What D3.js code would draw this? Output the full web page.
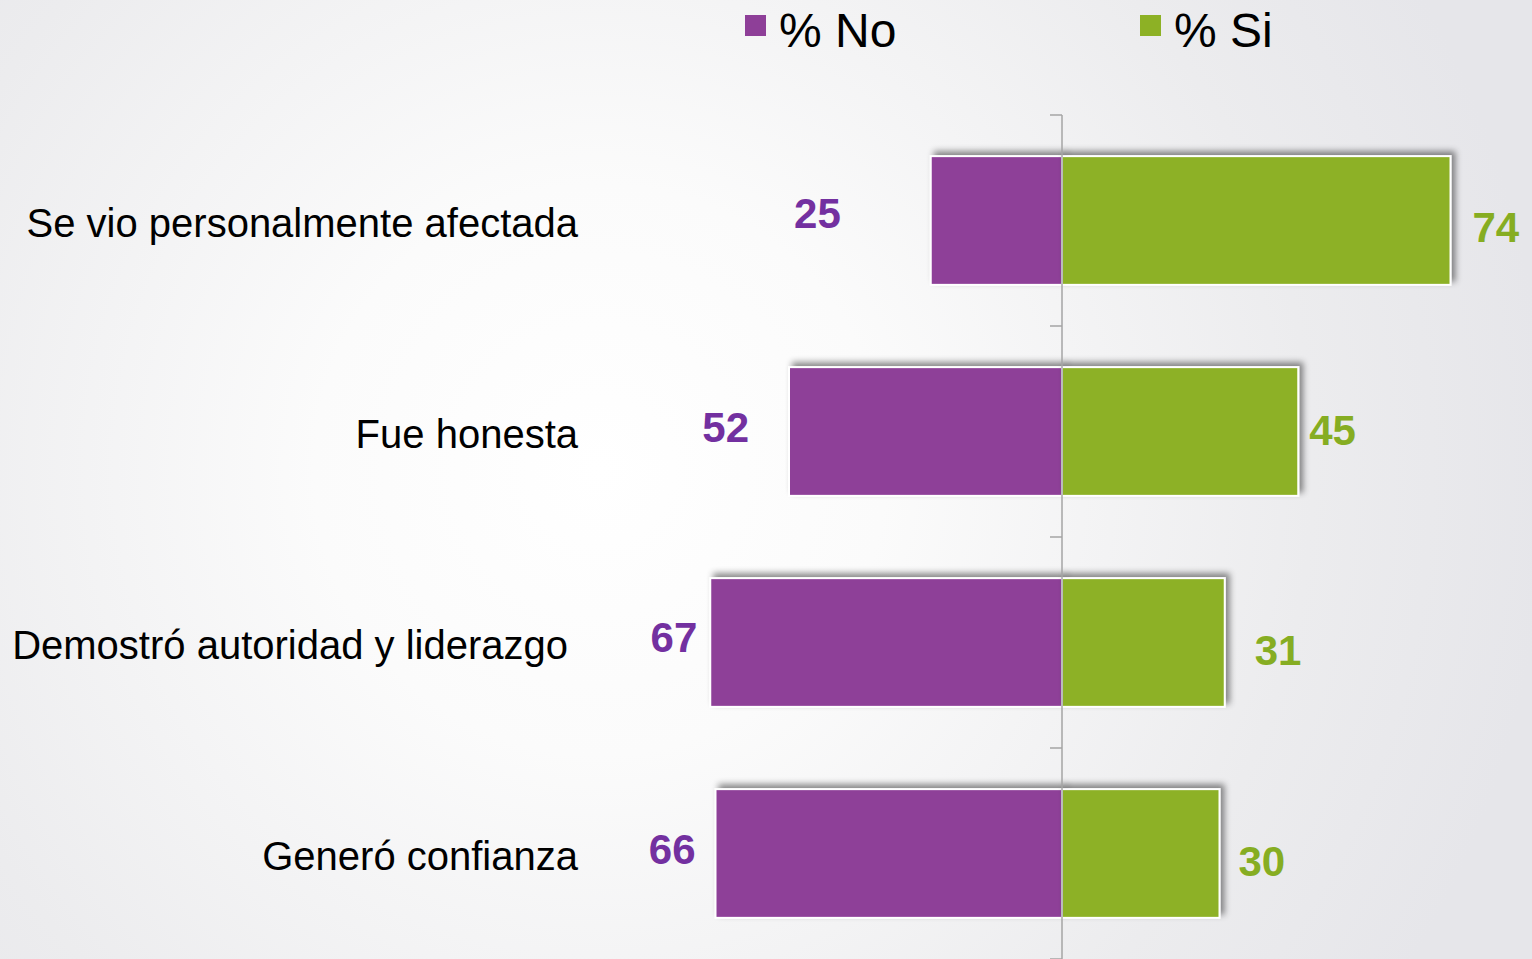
<!DOCTYPE html>
<html>
<head>
<meta charset="utf-8">
<script src="https://cdn.jsdelivr.net/npm/d3@7"></script>
<style>
  html, body { margin: 0; padding: 0; overflow: hidden; }
  svg { display: block; font-family: "Liberation Sans", Arial, sans-serif; }
</style>
</head>
<body>
<script>
const categories = [
  'Se vio personalmente afectada',
  'Fue honesta',
  'Demostró autoridad y liderazgo',
  'Generó confianza',
];
const noValues = [25, 52, 67, 66];
const siValues = [74, 45, 31, 30];
const seriesNames = ['% No', '% Si'];

const width = 1532;
const height = 959;
const center = 1062;
const pxPerUnit = 5.25;

const purple = '#8e3f98';
const green = '#8db125';
const purpleText = '#7330a0';
const greenText = '#86ad22';

// small hand nudges for the value labels, as in the original slide
const noNudge = [[-90, -7], [-40, -4], [-13, -5], [-20, -4]];
const siNudge = [[22, 7], [11, -1], [30, 8], [19, 8]];

const svg = d3.select('body')
  .append('svg')
  .attr('width', width)
  .attr('height', height);

const defs = svg.append('defs');

const bg = defs.append('radialGradient')
  .attr('id', 'bg')
  .attr('gradientUnits', 'userSpaceOnUse')
  .attr('cx', 600).attr('cy', 470).attr('r', 950);
bg.append('stop').attr('offset', '0').attr('stop-color', '#ffffff');
bg.append('stop').attr('offset', '0.3').attr('stop-color', '#fbfbfb');
bg.append('stop').attr('offset', '0.75').attr('stop-color', '#ececee');
bg.append('stop').attr('offset', '1').attr('stop-color', '#e6e6ea');

const shadow = defs.append('filter')
  .attr('id', 'shadow')
  .attr('x', '-10%').attr('y', '-20%')
  .attr('width', '120%').attr('height', '140%');
shadow.append('feDropShadow')
  .attr('dx', 4).attr('dy', -4)
  .attr('stdDeviation', 3)
  .attr('flood-color', '#000')
  .attr('flood-opacity', 0.45);

svg.append('rect')
  .attr('width', width)
  .attr('height', height)
  .attr('fill', 'url(#bg)');

const y = d3.scaleBand()
  .domain(categories)
  .range([115, 959])
  .paddingInner(0.39)
  .paddingOuter(0.195);

const xNo = d3.scaleLinear()
  .domain([0, 100])
  .range([center, center - 100 * pxPerUnit]);

const xSi = d3.scaleLinear()
  .domain([0, 100])
  .range([center, center + 100 * pxPerUnit]);

const rows = categories.map((c, i) => ({ c, no: noValues[i], si: siValues[i], i }));

const bars = svg.append('g');

bars.selectAll('.bar-no')
  .data(rows)
  .enter().append('rect')
  .attr('class', 'bar-no')
  .attr('x', d => xNo(d.no))
  .attr('y', d => y(d.c))
  .attr('width', d => xNo(0) - xNo(d.no))
  .attr('height', y.bandwidth())
  .attr('fill', purple)
  .attr('stroke', '#fff')
  .attr('stroke-width', 2)
  .attr('filter', 'url(#shadow)');

bars.selectAll('.bar-si')
  .data(rows)
  .enter().append('rect')
  .attr('class', 'bar-si')
  .attr('x', xSi(0))
  .attr('y', d => y(d.c))
  .attr('width', d => xSi(d.si) - xSi(0))
  .attr('height', y.bandwidth())
  .attr('fill', green)
  .attr('stroke', '#fff')
  .attr('stroke-width', 2)
  .attr('filter', 'url(#shadow)');

// central axis with ticks at band boundaries
const axis = svg.append('g').attr('stroke', '#a4a4a4').attr('stroke-width', 1.5);
axis.append('line')
  .attr('x1', center).attr('x2', center)
  .attr('y1', 115).attr('y2', height);
const bounds = categories.map(c => y(c) - y.step() * y.paddingInner() / 2).concat([height]);
axis.selectAll('.tick')
  .data(bounds)
  .enter().append('line')
  .attr('x1', center - 12).attr('x2', center)
  .attr('y1', d => d).attr('y2', d => d);

// category labels
svg.append('g')
  .selectAll('text')
  .data(rows)
  .enter().append('text')
  .attr('x', d => (d.i === 2 ? 568 : 578))
  .attr('y', d => y(d.c) + y.bandwidth() / 2 + 2)
  .attr('dy', '0.35em')
  .attr('text-anchor', 'end')
  .attr('font-size', 40)
  .attr('fill', '#000')
  .text(d => d.c);

// value labels
svg.append('g')
  .selectAll('text')
  .data(rows)
  .enter().append('text')
  .attr('x', d => xNo(d.no) + noNudge[d.i][0])
  .attr('y', d => y(d.c) + y.bandwidth() / 2 + noNudge[d.i][1])
  .attr('dy', '0.35em')
  .attr('text-anchor', 'end')
  .attr('font-size', 42)
  .attr('font-weight', 'bold')
  .attr('fill', purpleText)
  .text(d => d.no);

svg.append('g')
  .selectAll('text')
  .data(rows)
  .enter().append('text')
  .attr('x', d => xSi(d.si) + siNudge[d.i][0])
  .attr('y', d => y(d.c) + y.bandwidth() / 2 + siNudge[d.i][1])
  .attr('dy', '0.35em')
  .attr('text-anchor', 'start')
  .attr('font-size', 42)
  .attr('font-weight', 'bold')
  .attr('fill', greenText)
  .text(d => d.si);

// legend
const legend = svg.append('g')
  .selectAll('g')
  .data(seriesNames)
  .enter().append('g')
  .attr('transform', (d, i) => `translate(${i === 0 ? 745 : 1140}, 0)`);

legend.append('rect')
  .attr('x', 0).attr('y', 15)
  .attr('width', 21).attr('height', 21)
  .attr('fill', (d, i) => (i === 0 ? purple : green));

legend.append('text')
  .attr('x', 34).attr('y', 47)
  .attr('font-size', 48)
  .attr('fill', '#000')
  .text(d => d);
</script>
</body>
</html>
